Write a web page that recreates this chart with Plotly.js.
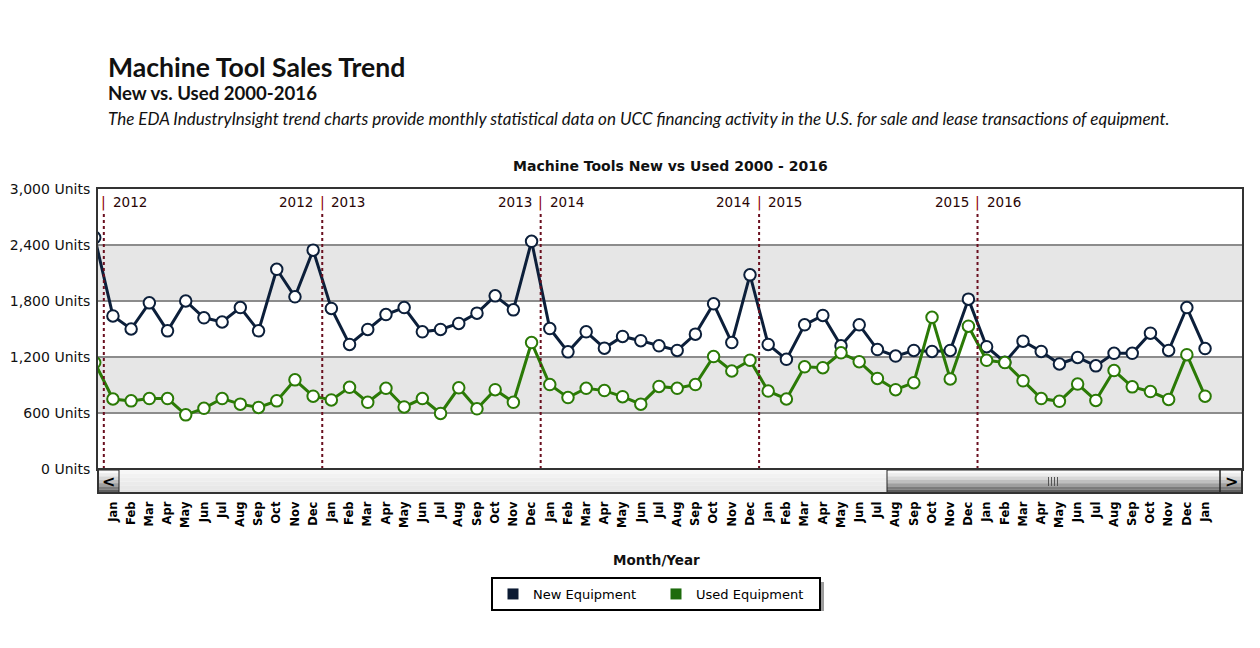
<!DOCTYPE html>
<html>
<head>
<meta charset="utf-8">
<script src="https://cdn.plot.ly/plotly-3.0.1.min.js"></script>
<style>
html,body{margin:0;padding:0;background:#fff;}
#chart{width:1260px;height:648px;}
</style>
</head>
<body>
<div id="chart"></div>
<script>
// ---------- DATA ----------
const monthLabels = ['Dec',
 'Jan','Feb','Mar','Apr','May','Jun','Jul','Aug','Sep','Oct','Nov','Dec',
 'Jan','Feb','Mar','Apr','May','Jun','Jul','Aug','Sep','Oct','Nov','Dec',
 'Jan','Feb','Mar','Apr','May','Jun','Jul','Aug','Sep','Oct','Nov','Dec',
 'Jan','Feb','Mar','Apr','May','Jun','Jul','Aug','Sep','Oct','Nov','Dec',
 'Jan','Feb','Mar','Apr','May','Jun','Jul','Aug','Sep','Oct','Nov','Dec',
 'Jan'];
const newEquipment = [2480,
 1640,1500,1780,1480,1800,1620,1575,1730,1480,2140,1845,2345,
 1720,1335,1495,1655,1730,1470,1495,1560,1670,1855,1705,2440,
 1505,1255,1470,1295,1420,1375,1320,1270,1445,1770,1355,2080,
 1335,1175,1545,1645,1320,1545,1280,1210,1270,1260,1270,1820,
 1310,1145,1370,1260,1125,1195,1105,1240,1240,1455,1270,1730,
 1290];
const usedEquipment = [1140,
 750,730,755,755,580,650,755,695,660,730,955,780,
 740,875,715,865,665,755,595,870,645,850,715,1355,
 905,765,865,840,775,695,885,865,905,1205,1050,1165,
 835,750,1095,1085,1245,1150,970,850,925,1625,965,1530,
 1165,1140,945,755,725,910,735,1055,880,830,745,1225,
 780];
const yearLabels = ['2011','2012','2013','2014','2015','2016'];
const yTicks = [0,600,1200,1800,2400,3000];
const bandRanges = [[600,1200],[1800,2400]];

// ---------- GEOMETRY HELPERS ----------
const L=98, R=1242, T=189, B=469;
const PX = x => (x-L)/(R-L);
const PY = y => (B-y)/(B-T);

const xIdx = monthLabels.map((_,i)=>i);
// boundaries between December and January (one per year change shown)
const boundaries = [];
monthLabels.forEach((m,i)=>{ if(m==='Dec' && i+1<monthLabels.length && boundaries.length<yearLabels.length-1) boundaries.push(i+0.5); });
const xRange=[0.18,63.03];

const NAVY='#0c1f3a', GREEN='#2b7a06';

const traces = [
 {x:xIdx, y:newEquipment, type:'scatter', mode:'lines+markers', showlegend:false, hoverinfo:'skip',
  line:{color:NAVY,width:3}, marker:{symbol:'circle',size:11.5,color:'#fff',line:{color:NAVY,width:2}}},
 {x:xIdx, y:usedEquipment, type:'scatter', mode:'lines+markers', showlegend:false, hoverinfo:'skip',
  line:{color:GREEN,width:3}, marker:{symbol:'circle',size:11.5,color:'#fff',line:{color:GREEN,width:2}}},
 {x:[null], y:[null], type:'scatter', mode:'markers', name:'New Equipment', hoverinfo:'skip',
  marker:{symbol:'square',size:11,color:'#0b1a33'}},
 {x:[null], y:[null], type:'scatter', mode:'markers', name:'Used Equipment', hoverinfo:'skip',
  marker:{symbol:'square',size:11,color:'#1d6b0c'}}
];

const shapes=[];
bandRanges.forEach(b=>shapes.push({type:'rect',xref:'paper',yref:'y',x0:0,x1:1,y0:b[0],y1:b[1],
  fillcolor:'#e6e6e6',line:{width:0},layer:'below'}));
boundaries.forEach(bx=>shapes.push({type:'line',xref:'x',yref:'paper',x0:bx,x1:bx,y0:0,y1:PY(211),
  line:{color:'#6a0f1f',width:2,dash:'dot'}}));

// scrollbar
function strips(x0,x1,y0,y1,colors){
  const n=colors.length, h=(y1-y0)/n;
  colors.forEach((c,i)=>shapes.push({type:'rect',xref:'paper',yref:'paper',
    x0:PX(x0),x1:PX(x1),y0:PY(y0+i*h),y1:PY(y0+(i+1)*h),fillcolor:c,line:{width:0}}));
}
strips(98,1242,470,493,['#f7f7f7','#f2f2f2','#eeeeee','#ebebeb','#e8e8e8','#e4e4e4']);
const btn=['#fafafa','#ececec','#d8d8d8','#c0c0c0','#a0a0a0','#7c7c7c','#5e5e5e'];
strips(887,1220,470,493,btn);
strips(98,119,470,493,btn);
strips(1220,1242,470,493,btn);
[[887,1220],[98,119],[1220,1242]].forEach(s=>shapes.push({type:'rect',xref:'paper',yref:'paper',
  x0:PX(s[0]),x1:PX(s[1]),y0:PY(470),y1:PY(493),line:{color:'#222',width:1},fillcolor:'rgba(0,0,0,0)'}));
shapes.push({type:'rect',xref:'paper',yref:'paper',x0:0,x1:1,y0:PY(469),y1:PY(493),
  line:{color:'#333',width:2},fillcolor:'rgba(0,0,0,0)'});
// grip lines
[-3,-1,1,3].forEach(d=>shapes.push({type:'line',xref:'paper',yref:'paper',
  x0:PX(1053+d*1.5),x1:PX(1053+d*1.5),y0:PY(477),y1:PY(486),line:{color:'#555',width:1}}));
// legend shadow
shapes.push({type:'rect',xref:'paper',yref:'paper',x0:PX(496),x1:PX(824),y0:PY(582),y1:PY(611),
  fillcolor:'rgba(60,60,60,0.5)',line:{width:0}});

const annotations=[
 {text:'<b>Machine Tool Sales Trend</b>',x:PX(106),y:PY(67),xanchor:'left',yanchor:'middle',
  font:{family:'Lato',size:26.6,color:'#111'}},
 {text:'<b>New vs. Used 2000-2016</b>',x:PX(106),y:PY(93),xanchor:'left',yanchor:'middle',
  font:{family:'Lato',size:18.6,color:'#111'}},
 {text:'<i>The EDA IndustryInsight trend charts provide monthly statistical data on UCC financing activity in the U.S. for sale and lease transactions of equipment.</i>',
  x:PX(106),y:PY(118),xanchor:'left',yanchor:'middle',font:{family:'Lato',size:17,color:'#111'}},
 {text:'<b>Machine Tools New vs Used 2000 - 2016</b>',x:PX(670),y:PY(166),xanchor:'center',yanchor:'middle',
  font:{family:'DejaVu Sans',size:14,color:'#111'}},
 {text:'<b>Month/Year</b>',x:PX(656),y:PY(560),xanchor:'center',yanchor:'middle',
  font:{family:'DejaVu Sans',size:13.5,color:'#111'}},
 {text:'<b>&lt;</b>',x:PX(108.5),y:PY(481),xanchor:'center',yanchor:'middle',font:{family:'DejaVu Sans',size:16,color:'#000'}},
 {text:'<b>&gt;</b>',x:PX(1231),y:PY(481),xanchor:'center',yanchor:'middle',font:{family:'DejaVu Sans',size:16,color:'#000'}}
];
annotations.forEach(a=>{a.xref='paper';a.yref='paper';a.showarrow=false;});
boundaries.forEach((bx,i)=>{
  const yy=PY(202);
  annotations.push({text:'|',xref:'x',yref:'paper',x:bx,y:yy,showarrow:false,xanchor:'center',yanchor:'middle',
    font:{family:'DejaVu Sans',size:14,color:'#8b0000'}});
  if(bx-1.2>xRange[0]) annotations.push({text:yearLabels[i],xref:'x',yref:'paper',x:bx,xshift:-7,y:yy,showarrow:false,
    xanchor:'right',yanchor:'middle',font:{family:'DejaVu Sans',size:13.5,color:'#2a0505'}});
  annotations.push({text:yearLabels[i+1],xref:'x',yref:'paper',x:bx,xshift:7,y:yy,showarrow:false,
    xanchor:'left',yanchor:'middle',font:{family:'DejaVu Sans',size:13.5,color:'#2a0505'}});
});

const layout={
 width:1260,height:648,
 margin:{l:L,r:1260-R,t:T,b:648-B,pad:0},
 paper_bgcolor:'#fff',plot_bgcolor:'#fff',
 showlegend:true,
 legend:{orientation:'h',x:PX(656),xanchor:'center',y:PY(577),yanchor:'top',
   bgcolor:'#fff',bordercolor:'#000',borderwidth:2,
   font:{family:'DejaVu Sans',size:13,color:'#000'},itemwidth:30,entrywidth:118},
 xaxis:{range:xRange,tickmode:'array',tickvals:xIdx,ticktext:monthLabels,tickangle:-90,
   tickfont:{family:'DejaVu Sans',size:11.5,color:'#000',weight:'bold'},
   showgrid:false,zeroline:false,showline:true,mirror:true,linecolor:'#333',linewidth:2,
   ticks:'',ticklabelstandoff:26,fixedrange:true},
 yaxis:{range:[0,3000],tickmode:'array',tickvals:yTicks,
   ticktext:yTicks.map(v=>v.toLocaleString('en-US')+' Units'),
   tickfont:{family:'DejaVu Sans',size:14,color:'#111'},
   showgrid:true,gridcolor:'#8c8c8c',gridwidth:2,zeroline:false,
   showline:true,mirror:true,linecolor:'#333',linewidth:2,ticks:'',ticklabelstandoff:3,fixedrange:true},
 shapes:shapes,annotations:annotations
};
Plotly.newPlot('chart',traces,layout,{displayModeBar:false,staticPlot:true});
</script>
</body>
</html>
